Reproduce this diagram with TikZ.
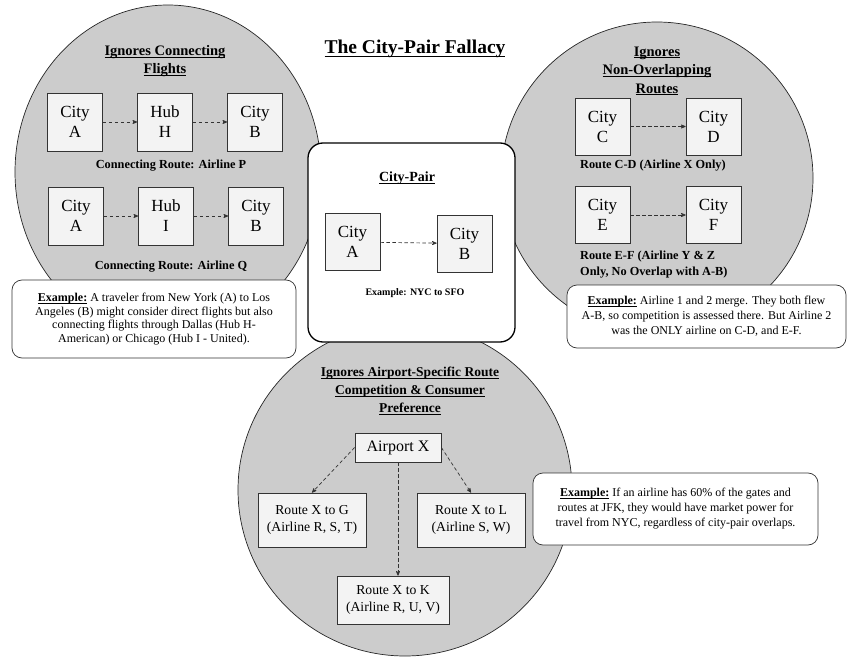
\documentclass[tikz,border=0pt]{standalone}
\usepackage{fontspec}
\setmainfont{Liberation Serif}
\usepackage{xcolor}
\usetikzlibrary{arrows,shapes.geometric,positioning}
\definecolor{zonegray}{HTML}{CCCCCC}
\definecolor{boxgray}{HTML}{F3F3F3}
\newcommand{\undl}[1]{\leavevmode\setbox0=\hbox{#1}\rlap{\rule[-0.17em]{\wd0}{0.075em}}\box0}

\begin{document}
\begin{tikzpicture}[x=1pt,y=-1pt,->,>=stealth',node distance=90pt,
  zone/.style={ellipse,draw=black!85,fill=zonegray,inner sep=0pt,line width=0.7pt},
  city node/.style={rectangle,draw=black!80,fill=boxgray,inner sep=0pt,line width=0.7pt,
    minimum width=55pt,minimum height=58pt,align=center,font=\fontsize{17}{20}\selectfont},
  route node/.style={city node,minimum width=108pt,minimum height=54pt,font=\fontsize{13.7}{16.7}\selectfont},
  head node/.style={align=center,inner sep=0pt,font=\bfseries\fontsize{14.5}{18.5}\selectfont},
  cap node/.style={align=left,inner sep=0pt,font=\bfseries\fontsize{12.3}{16}\selectfont},
  note node/.style={rectangle,rounded corners=10pt,draw=black!80,fill=white,line width=0.7pt,
    inner sep=0pt,align=center},
  flight/.style={dashed,dash pattern=on 3.5pt off 2.5pt,black!80,line width=0.7pt}]

  \useasboundingbox (0,0) rectangle (849,658);

  % the three grey zones
  \node[zone,minimum width=306pt,minimum height=334pt] (conn zone) at (168,172) {};
  \node[zone,minimum size=312pt] (overlap zone) at (657,178) {};
  \node[zone,minimum width=334pt,minimum height=332pt] (airport zone) at (405,490) {};

  % city-pair frame
  \node[draw=black,line width=1.3pt,rounded corners=15pt,fill=white,
    minimum width=207pt,minimum height=199pt] (pair frame) at (411.5,242.5) {};

  \node[inner sep=0pt,font=\bfseries\fontsize{19.5}{23}\selectfont] (title) at (415,49)
    {\undl{The City-Pair Fallacy}};

  % connecting flights
  \node[head node] (conn head) at (165,61) {\undl{Ignores Connecting}\\\undl{Flights}};
  \node[city node] (a1) at (75,122) {City\\A};
  \node[city node] (h) [right of=a1] {Hub\\H};
  \node[city node] (b1) [right of=h] {City\\B};
  \node[cap node] (p cap) at (171,166) {Connecting Route: Airline P};
  \node[city node] (a2) at (76,216) {City\\A};
  \node[city node] (i) [right of=a2] {Hub\\I};
  \node[city node] (b2) [right of=i] {City\\B};
  \node[cap node] (q cap) at (171,267) {Connecting Route: Airline Q};
  \path[flight] (a1) edge (h) (h) edge (b1)
    (a2) edge (i) (i) edge (b2);
  \node[note node,minimum width=284pt,minimum height=78pt,font=\fontsize{12}{13.7}\selectfont]
    (conn note) at (154,319)
    {\textbf{\undl{Example:}} A traveler from New York (A) to Los\\
     Angeles (B) might consider direct flights but also\\
     connecting flights through Dallas (Hub H-\\
     American) or Chicago (Hub I - United).};

  % city pair
  \node[head node,font=\bfseries\fontsize{14}{17}\selectfont] (pair head) at (407,178) {\undl{City-Pair}};
  \node[city node,minimum height=57pt] (pa) at (352.5,242) {City\\A};
  \node[city node,minimum height=57pt] (pb) at (464.5,243.5) {City\\B};
  \path[flight] (pa) edge (pb);
  \node[inner sep=0pt,font=\bfseries\fontsize{10}{12}\selectfont] (pair ex) at (415,293) {Example: NYC to SFO};

  % non-overlapping routes
  \node[head node] (overlap head) at (657,71) {\undl{Ignores}\\\undl{Non-Overlapping}\\\undl{Routes}};
  \node[city node,minimum height=57pt] (c) at (602.5,126.5) {City\\C};
  \node[city node,minimum height=57pt,node distance=111pt] (d) [right of=c] {City\\D};
  \node[cap node,anchor=west] (cd cap) at (580,166) {Route C-D (Airline X Only)};
  \node[city node,minimum height=57pt] (e) at (602.5,215) {City\\E};
  \node[city node,minimum height=57pt,node distance=111pt] (f) [right of=e] {City\\F};
  \node[cap node,anchor=west] (ef cap) at (580,265) {Route E-F (Airline Y \& Z\\Only, No Overlap with A-B)};
  \path[flight] (c) edge (d) (e) edge (f);
  \node[note node,minimum width=279pt,minimum height=63pt,font=\fontsize{12}{15}\selectfont]
    (overlap note) at (706.5,316.5)
    {\textbf{\undl{Example:}} Airline 1 and 2 merge. They both flew\\
     A-B, so competition is assessed there. But Airline 2\\
     was the ONLY airline on C-D, and E-F.};

  % airport-specific competition
  \node[head node,font=\bfseries\fontsize{13.5}{18}\selectfont] (airport head) at (410,391)
    {\undl{Ignores Airport-Specific Route}\\\undl{Competition \& Consumer}\\\undl{Preference}};
  \node[city node,minimum width=86pt,minimum height=29pt,font=\fontsize{16}{19}\selectfont] (apx) at (398,447.5) {Airport X};
  \node[route node] (rg) at (312,520) {Route X to G\\(Airline R, S, T)};
  \node[route node] (rl) at (471,520) {Route X to L\\(Airline S, W)};
  \node[route node,minimum width=112pt,minimum height=48pt] (rk) at (393,600) {Route X to K\\(Airline R, U, V)};
  \coordinate (k top) at (apx.south |- rk.north);
  \path[flight] (apx.west) edge (rg.north)
    (apx.east) edge (rl.north)
    (apx.south) edge (k top);
  \node[note node,minimum width=285pt,minimum height=72pt,font=\fontsize{12}{15}\selectfont]
    (airport note) at (675.5,509)
    {\textbf{\undl{Example:}} If an airline has 60\% of the gates and\\
     routes at JFK, they would have market power for\\
     travel from NYC, regardless of city-pair overlaps.};

\end{tikzpicture}
\end{document}
